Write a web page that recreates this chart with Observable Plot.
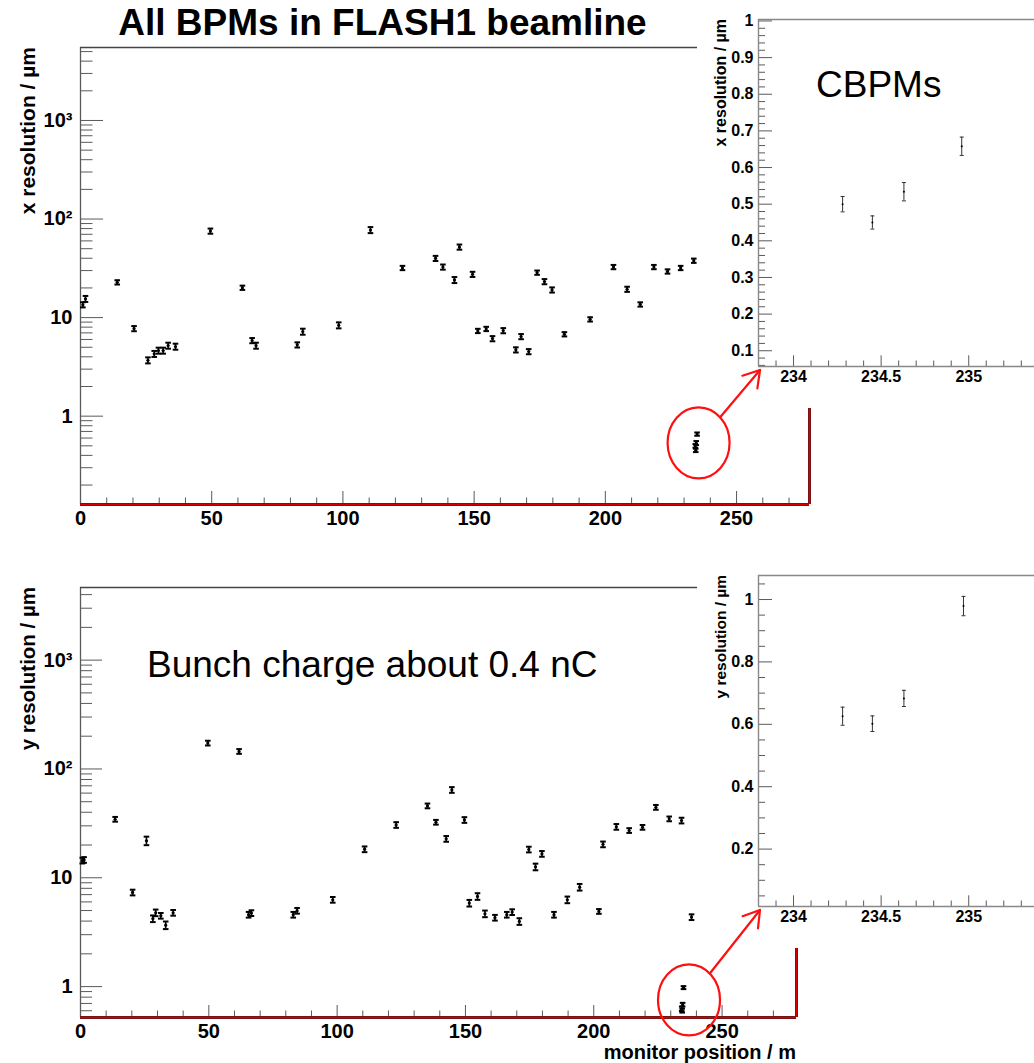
<!DOCTYPE html>
<html><head><meta charset="utf-8">
<script src="https://cdn.jsdelivr.net/npm/d3@7"></script>
<script src="https://cdn.jsdelivr.net/npm/@observablehq/plot@0.6"></script>
<style>
body{margin:0;background:#fff;}
#root{position:relative;width:1034px;height:1063px;overflow:hidden;background:#fff;}
#root > svg{position:absolute;}
</style></head><body><div id="root"></div>
<script>
const FONT = '"Liberation Sans", Arial, Helvetica, sans-serif';

// ---------- data: x resolution (top panel) ----------
const xPos = [0.9, 1.9, 14.0, 20.4, 25.7, 28.1, 29.7, 31.5, 33.4, 36.2, 49.5, 61.7, 65.4, 66.9, 82.6, 84.7, 98.4,
  110.5, 122.7, 135.3, 138.1, 142.5, 144.4, 149.4, 151.4, 154.6, 157.0, 161.1, 165.9, 167.9, 170.8, 174.0, 176.8,
  179.7, 184.4, 194.2, 203.1, 208.3, 213.3, 218.5, 223.7, 228.7, 233.7];
const xRes = [13.5, 15.5, 22.8, 7.74, 3.69, 4.29, 4.63, 4.63, 5.2, 5.08, 75.5, 20.1, 5.85, 5.2, 5.29, 7.21, 8.36,
  77.4, 31.9, 39.9, 32.6, 24.1, 52, 27.5, 7.33, 7.68, 6.12, 7.38, 4.71, 6.42, 4.52, 28.6, 23.2,
  19.1, 6.78, 9.6, 32.6, 19.4, 13.6, 32.6, 29.4, 31.9, 37.8];
const xErr = [0.06, 0.07, 0.05, 0.06, 0.07, 0.07, 0.07, 0.07, 0.07, 0.07, 0.06, 0.05, 0.06, 0.07, 0.06, 0.07, 0.07,
  0.07, 0.05, 0.06, 0.06, 0.07, 0.06, 0.06, 0.05, 0.05, 0.06, 0.06, 0.06, 0.06, 0.06, 0.05, 0.06,
  0.06, 0.05, 0.05, 0.05, 0.06, 0.05, 0.05, 0.05, 0.05, 0.05]; // relative

// ---------- data: y resolution (bottom panel) ----------
const yPos = [0.7, 1.4, 13.5, 20.3, 25.7, 28.2, 29.3, 31.3, 33.2, 36.1, 49.6, 61.8, 65.5, 66.6, 82.9, 84.4, 98.3,
  110.7, 123.0, 135.2, 138.5, 142.5, 144.7, 149.6, 151.5, 154.7, 157.6, 161.5, 166.1, 168.2, 171.0, 174.7, 177.3,
  179.8, 184.5, 189.7, 194.5, 202.0, 203.6, 208.8, 213.8, 219.0, 224.2, 229.4, 234.2, 238.1];
const yRes = [14.4, 14.6, 34.5, 7.33, 21.9, 4.21, 4.77, 4.48, 3.67, 4.77, 173, 145, 4.58, 4.74, 4.58, 4.98, 6.28,
  18.3, 30.6, 45.8, 32.4, 22.8, 64.2, 34.0, 5.85, 6.74, 4.67, 4.30, 4.58, 4.84, 3.97, 18.2, 12.6,
  16.6, 4.58, 6.28, 8.2, 4.91, 20.3, 29.4, 27.2, 29.1, 44.4, 34.8, 33.6, 4.35];
const yErr = [0.06, 0.06, 0.05, 0.06, 0.09, 0.07, 0.07, 0.06, 0.08, 0.06, 0.05, 0.05, 0.06, 0.06, 0.06, 0.06, 0.06,
  0.06, 0.06, 0.05, 0.05, 0.06, 0.06, 0.06, 0.07, 0.07, 0.07, 0.06, 0.06, 0.06, 0.07, 0.06, 0.07,
  0.06, 0.06, 0.07, 0.07, 0.05, 0.06, 0.06, 0.05, 0.05, 0.05, 0.05, 0.06, 0.06];

// ---------- data: cavity BPMs (insets) ----------
const cbpmPosX = [234.28, 234.45, 234.63, 234.96];
const cbpmResX = [0.500, 0.450, 0.534, 0.658];
const cbpmErrX = [0.021, 0.018, 0.025, 0.025]; // absolute, µm
const cbpmPosY = [234.28, 234.45, 234.63, 234.97];
const cbpmResY = [0.626, 0.602, 0.683, 0.979];
const cbpmErrY = [0.029, 0.025, 0.026, 0.031];

// ---------- tick labels ----------
const mainXTicks = [0, 50, 100, 150, 200, 250];
const mainYLabels = {1: "1", 10: "10", 100: "10\u00B2", 1000: "10\u00B3"};
const insetXTicks = [234, 234.5, 235];

// ---------- text ----------
const titleText = "All BPMs in FLASH1 beamline";
const xTitleTop = "x resolution / \u00B5m";
const yTitleBottom = "y resolution / \u00B5m";
const xAxisTitle = "monitor position / m";
const insetNote = "CBPMs";
const chargeNote = "Bunch charge about 0.4 nC";

const rowsMainX = xPos.map((p, i) => ({pos: p, res: xRes[i], rel: xErr[i]}))
  .concat(cbpmPosX.map((p, i) => ({pos: p, res: cbpmResX[i], rel: cbpmErrX[i] / cbpmResX[i]})));
const rowsMainY = yPos.map((p, i) => ({pos: p, res: yRes[i], rel: yErr[i]}))
  .concat(cbpmPosY.map((p, i) => ({pos: p, res: cbpmResY[i], rel: cbpmErrY[i] / cbpmResY[i]})));
const rowsInsetX = cbpmPosX.map((p, i) => ({pos: p, res: cbpmResX[i], err: cbpmErrX[i]}));
const rowsInsetY = cbpmPosY.map((p, i) => ({pos: p, res: cbpmResY[i], err: cbpmErrY[i]}));

const capSymbol = {draw(ctx, size) { const r = Math.sqrt(size / Math.PI); ctx.moveTo(-r, 0); ctx.lineTo(r, 0); }};
const AX = "#5a5a5a";

function mainPlot({rows, xDomain, yDomain, width, height, mL, mT, mR, mB, yMaj, yMin, xMaj, xMin}) {
  const fw = width - mL - mR, fh = height - mT - mB;
  const inY = v => v >= yDomain[0] && v <= yDomain[1];
  const majors = [0.1, 1, 10, 100, 1000, 10000].filter(inY);
  const minors = [];
  for (const d of [0.1, 1, 10, 100, 1000]) for (let k = 2; k < 10; k++) { const v = +(k * d).toPrecision(3); if (inY(v)) minors.push(v); }
  const xMinor = d3.range(10, xDomain[1], 10).filter(v => v % 50 !== 0);
  return Plot.plot({
    width, height, marginLeft: mL, marginTop: mT, marginRight: mR, marginBottom: mB,
    x: {type: "linear", domain: xDomain, axis: null},
    y: {type: "log", domain: yDomain, axis: null},
    style: {fontFamily: FONT, background: "white", overflow: "visible"},
    marks: [
      Plot.tickY(minors, {y: d => d, stroke: AX, insetRight: fw - yMin}),
      Plot.tickY(majors, {y: d => d, stroke: AX, insetRight: fw - yMaj}),
      Plot.tickX(xMinor, {x: d => d, stroke: AX, insetTop: fh - xMin}),
      Plot.tickX(mainXTicks, {x: d => d, stroke: AX, insetTop: fh - xMaj}),
      Plot.axisY(majors, {tickSize: 0, tickPadding: 8, tickFormat: v => mainYLabels[v], fontSize: 20, fontWeight: "bold", fill: "black", label: null}),
      Plot.axisX(mainXTicks, {tickSize: 0, tickPadding: 6, fontSize: 20, fontWeight: "bold", fill: "black", label: null}),
      Plot.ruleX([xDomain[0]], {stroke: AX, strokeWidth: 1.3}),
      Plot.ruleY([yDomain[1]], {stroke: "#444", strokeWidth: 1.3}),
      Plot.ruleY([yDomain[0]], {stroke: "#222", strokeWidth: 3}),
      Plot.ruleY([yDomain[0]], {stroke: "#d40000", strokeWidth: 2}),
      Plot.ruleX([xDomain[1]], {stroke: "#222", strokeWidth: 3}),
      Plot.ruleX([xDomain[1]], {stroke: "#d40000", strokeWidth: 2}),
      Plot.ruleX(rows, {x: "pos", y1: d => d.res * (1 - d.rel), y2: d => d.res * (1 + d.rel), stroke: "black", strokeWidth: 1.6}),
      Plot.dot(rows, {x: "pos", y: d => d.res * (1 - d.rel), symbol: capSymbol, r: 2.8, stroke: "black", strokeWidth: 2, fill: "none"}),
      Plot.dot(rows, {x: "pos", y: d => d.res * (1 + d.rel), symbol: capSymbol, r: 2.8, stroke: "black", strokeWidth: 2, fill: "none"}),
      Plot.dot(rows, {x: "pos", y: "res", r: 1.6, fill: "black"})
    ]
  });
}

function insetPlot({rows, yDomain, yMajor, yMinor, yFmt, width, height, mL, mT, mB}) {
  const xDomain = [233.8, 233.8 + (width - mL) / 175.2];
  const fw = width - mL, fh = height - mT - mB;
  const xMinor = d3.range(2339, 2354).map(k => k / 10).filter(v => !insetXTicks.includes(v) && v < xDomain[1]);
  return Plot.plot({
    width, height, marginLeft: mL, marginTop: mT, marginRight: 0, marginBottom: mB,
    x: {type: "linear", domain: xDomain, axis: null},
    y: {type: "linear", domain: yDomain, axis: null},
    style: {fontFamily: FONT, background: "white"},
    marks: [
      Plot.tickY(yMinor, {y: d => d, stroke: AX, insetRight: fw - 7}),
      Plot.tickY(yMajor, {y: d => d, stroke: AX, insetRight: fw - 14}),
      Plot.tickX(xMinor, {x: d => d, stroke: AX, insetTop: fh - 5.5}),
      Plot.tickX(insetXTicks, {x: d => d, stroke: AX, insetTop: fh - 10.7}),
      Plot.axisY(yMajor, {tickSize: 0, tickPadding: 5, tickFormat: yFmt, fontSize: 16, fontWeight: "bold", fill: "black", label: null}),
      Plot.axisX(insetXTicks, {tickSize: 0, tickPadding: 4, tickFormat: v => String(v), fontSize: 16, fontWeight: "bold", fill: "black", label: null}),
      Plot.ruleX([xDomain[0]], {stroke: "#888", strokeWidth: 1.4}),
      Plot.ruleY([yDomain[1]], {stroke: "#888", strokeWidth: 1.4}),
      Plot.ruleY([yDomain[0]], {stroke: "#888", strokeWidth: 1.4}),
      Plot.ruleX(rows, {x: "pos", y1: d => d.res - d.err, y2: d => d.res + d.err, stroke: "#333", strokeWidth: 1}),
      Plot.dot(rows, {x: "pos", y: d => d.res - d.err, symbol: capSymbol, r: 2, stroke: "#333", strokeWidth: 1, fill: "none"}),
      Plot.dot(rows, {x: "pos", y: d => d.res + d.err, symbol: capSymbol, r: 2, stroke: "#333", strokeWidth: 1, fill: "none"}),
      Plot.dot(rows, {x: "pos", y: "res", r: 1, fill: "black"})
    ]
  });
}

const root = document.getElementById("root");
function place(svg, left, top) { svg.style.left = left + "px"; svg.style.top = top + "px"; root.appendChild(svg); return svg; }

const TOP = {left: 0, top: 0}, BOT = {left: 0, top: 560}, ITOP = {left: 697, top: 0}, IBOT = {left: 697, top: 555};

const pTop = place(mainPlot({rows: rowsMainX, xDomain: [0, 277.8], yDomain: [0.127, 5500], width: 820, height: 534,
  mL: 80, mT: 47, mR: 11, mB: 30, yMaj: 23, yMin: 12.5, xMaj: 13, xMin: 6.5}), TOP.left, TOP.top);
const pBot = place(mainPlot({rows: rowsMainY, xDomain: [0, 279], yDomain: [0.52, 4650], width: 820, height: 503,
  mL: 80, mT: 27, mR: 24, mB: 46, yMaj: 22, yMin: 12, xMaj: 12, xMin: 6.5}), BOT.left, BOT.top);

const topMajor = d3.range(1, 11).map(k => k / 10);
const topMinor = d3.range(3, 51).filter(k => k % 5 !== 0).map(k => k / 50);
const pITop = place(insetPlot({rows: rowsInsetX, yDomain: [0.057, 1.004], yMajor: topMajor, yMinor: topMinor,
  yFmt: v => v === 1 ? "1" : v.toFixed(1), width: 337, height: 408, mL: 61, mT: 19, mB: 42}), ITOP.left, ITOP.top);
const botMajor = [0.2, 0.4, 0.6, 0.8, 1];
const botMinor = d3.range(1, 22).filter(k => k % 4 !== 0).map(k => k / 20);
const pIBot = place(insetPlot({rows: rowsInsetY, yDomain: [0.016, 1.077], yMajor: botMajor, yMinor: botMinor,
  yFmt: v => v === 1 ? "1" : v.toFixed(1), width: 337, height: 393, mL: 61, mT: 20, mB: 42}), IBOT.left, IBOT.top);

// ---------- overlay: titles and annotations ----------
const ov = d3.select(root).append("svg").attr("width", 1034).attr("height", 1063)
  .style("left", "0px").style("top", "0px").style("pointer-events", "none")
  .attr("font-family", FONT);

ov.append("text").attr("x", 382.5).attr("y", 35).attr("text-anchor", "middle")
  .attr("font-size", 37).attr("font-weight", "bold").text(titleText);
function vtitle(x, y, size, txt) {
  ov.append("text").attr("transform", `translate(${x},${y}) rotate(-90)`).attr("text-anchor", "end")
    .attr("font-size", size).attr("font-weight", "bold").text(txt);
}
vtitle(35, 47, 21, xTitleTop);
vtitle(35, 587, 20.5, yTitleBottom);
vtitle(726, 19, 16, xTitleTop);
vtitle(726, 575, 15.5, yTitleBottom);
ov.append("text").attr("x", 796).attr("y", 1058.5).attr("text-anchor", "end")
  .attr("font-size", 20).attr("font-weight", "bold").text(xAxisTitle);
ov.append("text").attr("x", 816).attr("y", 96.5).attr("font-size", 37).text(insetNote);
ov.append("text").attr("x", 147).attr("y", 677).attr("font-size", 37).text(chargeNote);

function annotate(plot, off, inset, ioff, pos, res, dx, dy) {
  const sx = plot.scale("x"), sy = plot.scale("y");
  const cx = off.left + sx.apply(d3.mean(pos)) + dx;
  const cy = off.top + sy.apply(Math.exp(d3.mean(res, v => Math.log(v)))) + dy;
  const rx = 31, ry = 35.5;
  const ix = inset.scale("x"), iy = inset.scale("y");
  const ex = ioff.left + ix.apply(ix.domain[0]) + 2, ey = ioff.top + iy.apply(iy.domain[0]) + 4;
  const vx = ex - cx, vy = ey - cy;
  const s = 1 / Math.sqrt((vx / rx) ** 2 + (vy / ry) ** 2);
  const sxp = cx + vx * s, syp = cy + vy * s;
  const g = ov.append("g").attr("stroke", "#ff1010").attr("stroke-width", 2.2).attr("fill", "none").attr("stroke-linecap", "round");
  g.append("ellipse").attr("cx", cx).attr("cy", cy).attr("rx", rx).attr("ry", ry);
  g.append("line").attr("x1", sxp).attr("y1", syp).attr("x2", ex).attr("y2", ey);
  const ang = Math.atan2(ey - syp, ex - sxp), L = 18.5, a = 32 * Math.PI / 180;
  for (const sg of [-1, 1]) {
    g.append("line").attr("x1", ex).attr("y1", ey)
      .attr("x2", ex - L * Math.cos(ang + sg * a)).attr("y2", ey - L * Math.sin(ang + sg * a));
  }
}
annotate(pTop, TOP, pITop, ITOP, cbpmPosX, cbpmResX, 3, 0);
annotate(pBot, BOT, pIBot, IBOT, cbpmPosY, cbpmResY, 7, -2.5);
</script></body></html>
